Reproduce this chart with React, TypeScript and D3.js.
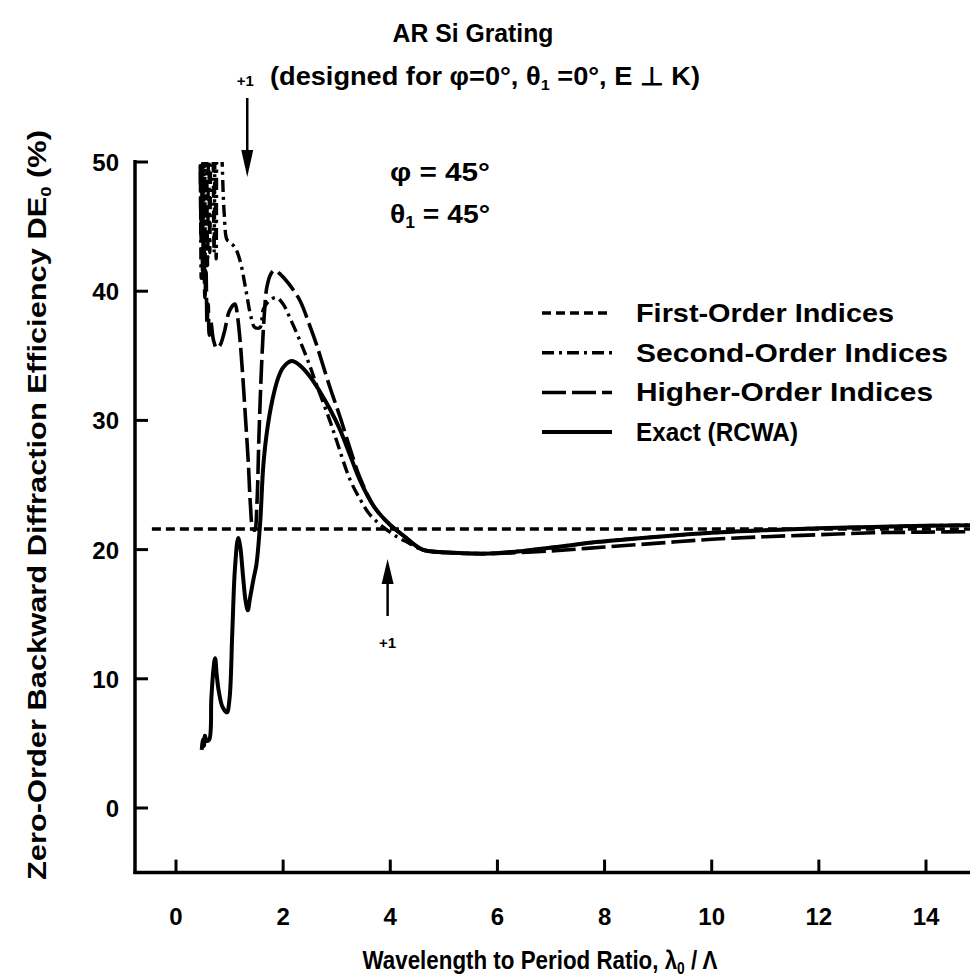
import React from "react";
import * as d3 from "d3";

// ---------- data ----------
const xTicks = [0, 2, 4, 6, 8, 10, 12, 14];
const yTicks = [0, 10, 20, 30, 40, 50];

const firstX = [-0.45, 15];
const firstY = [21.6, 21.6];

const secondX = [0.45, 0.47, 0.49, 0.51, 0.53, 0.55, 0.57, 0.59, 0.61, 0.63, 0.65, 0.68, 0.71, 0.73, 0.75, 0.78, 0.84, 0.9, 0.95, 1.0, 1.1, 1.2, 1.3, 1.4, 1.47, 1.57, 1.63, 1.75, 1.88, 2.0, 2.13, 2.31, 2.5, 2.62, 2.87, 3.0, 3.25, 3.45, 3.62, 3.85, 4.12, 4.3, 4.6, 5.05, 5.5, 5.86, 6.48, 7.1, 7.9, 9, 10, 11, 12, 13, 14, 15];
const secondY = [55, 41, 53, 42, 54, 40.5, 52, 42, 53, 43, 51, 55, 43, 52, 42.5, 55, 52, 46, 44, 43.8, 43.4, 42.3, 40.2, 38, 37.2, 37.2, 38.6, 39.3, 39.5, 39.0, 37.9, 36.2, 34.2, 32.8, 30.0, 28.4, 25.4, 23.8, 22.7, 21.8, 21.0, 20.6, 20.0, 19.8, 19.7, 19.7, 19.9, 20.2, 20.6, 21.0, 21.3, 21.5, 21.65, 21.75, 21.85, 21.9];

const higherX = [0.45, 0.47, 0.48, 0.5, 0.52, 0.54, 0.56, 0.58, 0.6, 0.62, 0.65, 0.7, 0.76, 0.82, 0.9, 1.0, 1.1, 1.15, 1.2, 1.25, 1.3, 1.35, 1.39, 1.43, 1.47, 1.51, 1.55, 1.6, 1.65, 1.7, 1.78, 1.85, 1.95, 2.1, 2.31, 2.5, 2.62, 2.87, 3.06, 3.25, 3.43, 3.7, 4.0, 4.24, 4.6, 5.05, 5.5, 6.0, 7.0, 8.0, 9.0, 10, 11, 12, 13, 14, 15];
const higherY = [52, 44, 49, 41, 44, 39.5, 41.5, 37.5, 39, 36.6, 37.6, 36.2, 35.6, 35.8, 36.8, 38.5, 39.0, 38.0, 36.0, 33.2, 30.0, 26.7, 23.4, 21.7, 21.5, 23.5, 29.0, 34.5, 38.3, 40.4, 41.4, 41.6, 41.3, 40.6, 39.3, 37.3, 35.9, 32.6, 30.3, 27.8, 25.6, 23.3, 21.9, 21.1, 20.0, 19.75, 19.7, 19.7, 19.9, 20.2, 20.5, 20.8, 21.0, 21.15, 21.3, 21.35, 21.4];

const exactX = [0.48, 0.5, 0.52, 0.54, 0.57, 0.62, 0.66, 0.7, 0.73, 0.76, 0.8, 0.87, 0.95, 1.0, 1.05, 1.1, 1.16, 1.2, 1.25, 1.3, 1.34, 1.38, 1.45, 1.5, 1.57, 1.63, 1.7, 1.8, 1.9, 2.0, 2.16, 2.3, 2.5, 2.69, 2.87, 3.06, 3.25, 3.43, 3.7, 4.0, 4.24, 4.6, 5.05, 5.5, 5.86, 6.48, 7.1, 7.9, 9, 10, 11, 12, 13, 14, 15];
const exactY = [4.5, 5.3, 4.8, 5.6, 5.2, 5.3, 8.5, 10.8, 11.6, 10.3, 9.0, 7.8, 7.4, 8.5, 13.5, 18.5, 20.9, 20.2, 18.0, 16.0, 15.3, 16.2, 17.8, 18.8, 22.0, 26.5, 29.2, 31.6, 33.2, 34.1, 34.6, 34.3, 33.4, 32.2, 30.9, 29.3, 27.3, 25.4, 23.3, 21.9, 21.1, 20.0, 19.8, 19.7, 19.7, 19.9, 20.2, 20.6, 21.0, 21.3, 21.5, 21.65, 21.75, 21.85, 21.9];

const legendLabels = ["First-Order Indices", "Second-Order Indices", "Higher-Order Indices", "Exact (RCWA)"];
const legendDashes = ["9,5", "12,5,3,5", "24,6", "none"];
const legendWidths = [258, 312, 297, 162];

const FONT = "'Liberation Sans', Arial, Helvetica, sans-serif";

export default function App() {
  const W = 970, H = 976;
  const x = d3.scaleLinear().domain([0, 14]).range([176, 926]);
  const y = d3.scaleLinear().domain([0, 50]).range([808, 162]);
  const left = 135, right = 970;
  const axisY = y(-5);

  const zip = (xa: number[], ya: number[]) => xa.map((v, i) => [v, ya[i]] as [number, number]);
  const smooth = d3.line<[number, number]>().x(d => x(d[0])).y(d => y(d[1])).curve(d3.curveCatmullRom.alpha(0.5));
  const straight = d3.line<[number, number]>().x(d => x(d[0])).y(d => y(d[1]));

  const series = [
    { d: straight(zip(firstX, firstY)), dash: legendDashes[0], w: 3.6 },
    { d: smooth(zip(secondX, secondY)), dash: legendDashes[1], w: 3.4 },
    { d: smooth(zip(higherX, higherY)), dash: legendDashes[2], w: 3.6 },
    { d: smooth(zip(exactX, exactY)), dash: legendDashes[3], w: 4 },
  ];

  const topArrowX = x(1.33);
  const botArrowX = x(3.95);

  return (
    <svg width={W} height={H} style={{ display: "block", position: "absolute", left: 0, top: 0, background: "#fff" }}>
      <defs>
        <clipPath id="plot">
          <rect x={left} y={y(50)} width={right - left} height={axisY - y(50)} />
        </clipPath>
      </defs>
      <rect x={0} y={0} width={W} height={H} fill="#fff" />

      {/* titles */}
      <text x={473} y={42} textAnchor="middle" fontFamily={FONT} fontWeight="bold" fontSize={25} textLength={161} lengthAdjust="spacingAndGlyphs">AR Si Grating</text>
      <text x={485} y={85} textAnchor="middle" fontFamily={FONT} fontWeight="bold" fontSize={25} textLength={430} lengthAdjust="spacingAndGlyphs">
        (designed for φ=0°, θ<tspan fontSize={15} dy={5}>1</tspan><tspan dy={-5}> =0°, E ⊥ K)</tspan>
      </text>

      {/* curves */}
      <g clipPath="url(#plot)" fill="none" stroke="#000" strokeLinejoin="round">
        {series.map((s, i) => (
          <path key={i} d={s.d || ""} strokeWidth={s.w} strokeDasharray={s.dash} />
        ))}
      </g>

      {/* axes */}
      <line x1={left} x2={left} y1={y(50) - 2} y2={axisY + 1.5} stroke="#000" strokeWidth={3.5} />
      <line x1={left - 1.5} x2={right} y1={axisY} y2={axisY} stroke="#000" strokeWidth={3.5} />
      {yTicks.map(t => (
        <g key={"y" + t}>
          <line x1={left} x2={left + 13} y1={y(t)} y2={y(t)} stroke="#000" strokeWidth={3} />
          <text x={119} y={y(t) + 9} textAnchor="end" fontFamily={FONT} fontWeight="bold" fontSize={24}>{t}</text>
        </g>
      ))}
      {xTicks.map(t => (
        <g key={"x" + t}>
          <line x1={x(t)} x2={x(t)} y1={axisY} y2={axisY - 13} stroke="#000" strokeWidth={3} />
          <text x={x(t)} y={925} textAnchor="middle" fontFamily={FONT} fontWeight="bold" fontSize={24}>{t}</text>
        </g>
      ))}

      {/* axis titles */}
      <text transform="translate(540,969) scale(0.86,1)" textAnchor="middle" fontFamily={FONT} fontWeight="bold" fontSize={26}>
        Wavelength to Period Ratio, λ<tspan fontSize={16} dy={5}>0</tspan><tspan dy={-5}> / Λ</tspan>
      </text>
      <text transform={`translate(46,505) rotate(-90)`} textAnchor="middle" fontFamily={FONT} fontWeight="bold" fontSize={25}
        textLength={750} lengthAdjust="spacingAndGlyphs">
        Zero-Order Backward Diffraction Efficiency DE<tspan fontSize={15} dy={5}>0</tspan><tspan dy={-5}> (%)</tspan>
      </text>

      {/* annotations */}
      <text x={390} y={181} fontFamily={FONT} fontWeight="bold" fontSize={26} textLength={100} lengthAdjust="spacingAndGlyphs">φ = 45°</text>
      <text x={390} y={223} fontFamily={FONT} fontWeight="bold" fontSize={26} textLength={100} lengthAdjust="spacingAndGlyphs">θ<tspan fontSize={16} dy={5}>1</tspan><tspan dy={-5}> = 45°</tspan></text>

      {/* top +1 arrow */}
      <text x={topArrowX - 2} y={86} textAnchor="middle" fontFamily={FONT} fontWeight="bold" fontSize={15}>+1</text>
      <line x1={topArrowX} x2={topArrowX} y1={98} y2={160} stroke="#000" strokeWidth={2.5} />
      <path d={`M${topArrowX - 6},${150} L${topArrowX + 6},${150} L${topArrowX},${177} Z`} fill="#000" />

      {/* bottom +1 arrow */}
      <line x1={botArrowX} x2={botArrowX} y1={616} y2={575} stroke="#000" strokeWidth={2.5} />
      <path d={`M${botArrowX - 6},${584} L${botArrowX + 6},${584} L${botArrowX},${559} Z`} fill="#000" />
      <text x={botArrowX} y={648} textAnchor="middle" fontFamily={FONT} fontWeight="bold" fontSize={15}>+1</text>

      {/* legend */}
      {legendLabels.map((lab, i) => {
        const ly = 313 + i * 39.7;
        return (
          <g key={lab}>
            <line x1={542} x2={612} y1={ly} y2={ly} stroke="#000" strokeWidth={i === 3 ? 4 : 3.5}
              strokeDasharray={legendDashes[i]} />
            <text x={636} y={ly + 9} fontFamily={FONT} fontWeight="bold" fontSize={26} textLength={legendWidths[i]} lengthAdjust="spacingAndGlyphs">{lab}</text>
          </g>
        );
      })}
    </svg>
  );
}
